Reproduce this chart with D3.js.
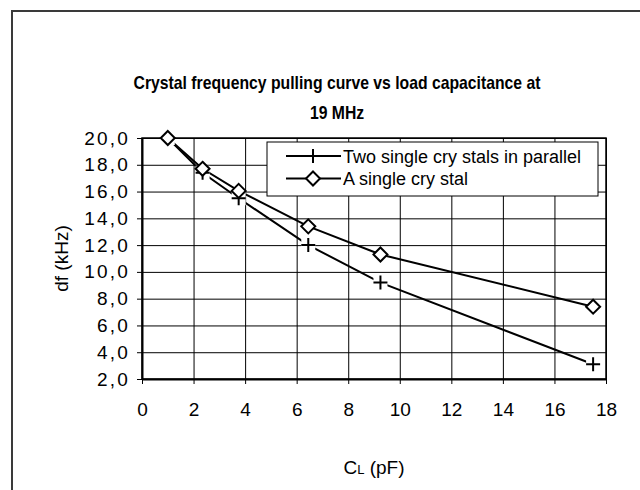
<!DOCTYPE html>
<html>
<head>
<meta charset="utf-8">
<script src="https://cdn.jsdelivr.net/npm/d3@7"></script>
<style>
    body{margin:0;background:#fff;}
    svg{display:block;}
</style>
</head>
<body>
<div id="chart"></div>
<script>
//values
var capacitance = [1, 2.35, 3.75, 6.45, 9.25, 17.5];
var parallelDf = [20.0, 17.4, 15.5, 12.0, 9.2, 3.1];
var singleDf = [20.0, 17.7, 16.05, 13.4, 11.3, 7.4];
var seriesNames = ["Two single cry stals in parallel", "A single cry stal"];
var xTicks = [0, 2, 4, 6, 8, 10, 12, 14, 16, 18];
var yTicks = [2, 4, 6, 8, 10, 12, 14, 16, 18, 20];
var titleLines = ["Crystal frequency pulling curve vs load capacitance at", "19 MHz"];

(function(){

    var W = 640, H = 490;
    var left = 142, right = 606, top = 138, bottom = 379;

    function makeChart(){
        var svg = d3.select("#chart").append("svg")
            .attr("width", W)
            .attr("height", H);

        //outer frame, only left and top edges sit inside the picture
        svg.append("rect")
            .attr("x", 12).attr("y", 11)
            .attr("width", 700).attr("height", 600)
            .attr("fill", "none")
            .attr("stroke", "#3a3a3a")
            .attr("stroke-width", 2);

        var x = d3.scaleLinear().domain([0, 18]).range([left, right]);
        var y = d3.scaleLinear().domain([2, 20]).range([bottom, top]);

        addTitle(svg);
        addGrid(svg, x, y);
        addAxes(svg, x, y);
        addSeries(svg, x, y);
        addLegend(svg);
    };

    function addTitle(svg){
        var cx = 337;
        var lines = svg.selectAll(".title")
            .data(titleLines)
            .enter()
            .append("text")
            .attr("class", "title")
            .attr("x", 0)
            .attr("y", 0)
            .attr("text-anchor", "middle")
            .style("font-family", "'Liberation Sans',Arial,sans-serif")
            .style("font-weight", "bold")
            .style("font-size", "18px")
            .text(function(d){ return d; });

        //squeeze to a narrow face, first line is about 407px wide
        var k = 407 / lines.node().getComputedTextLength();
        lines.attr("transform", function(d, i){
            return "translate(" + cx + "," + (89 + i * 30) + ") scale(" + k + ",1)";
        });
    };

    function addGrid(svg, x, y){
        svg.append("g")
            .attr("transform", "translate(0," + bottom + ")")
            .call(d3.axisBottom(x).tickValues(xTicks).tickSize(-(bottom - top)).tickFormat(""))
            .call(function(g){ g.select(".domain").remove(); })
            .selectAll("line").attr("stroke", "#000").attr("stroke-width", 1);

        svg.append("g")
            .attr("transform", "translate(" + left + ",0)")
            .call(d3.axisLeft(y).tickValues(yTicks).tickSize(-(right - left)).tickFormat(""))
            .call(function(g){ g.select(".domain").remove(); })
            .selectAll("line").attr("stroke", "#000").attr("stroke-width", 1);

        //plot area border
        svg.append("rect")
            .attr("x", left).attr("y", top)
            .attr("width", right - left).attr("height", bottom - top)
            .attr("fill", "none")
            .attr("stroke", "#000")
            .attr("stroke-width", 1.5);
    };

    function addAxes(svg, x, y){
        var comma = d3.formatLocale({decimal: ",", thousands: ".", grouping: [3], currency: ["", ""]}).format(".1f");

        var xAxis = svg.append("g")
            .attr("transform", "translate(0," + bottom + ")")
            .call(d3.axisBottom(x).tickValues(xTicks).tickSize(5).tickPadding(19).tickSizeOuter(0));
        xAxis.select(".domain").attr("stroke-width", 2);
        xAxis.selectAll("text")
            .style("font-family", "'Liberation Sans',Arial,sans-serif")
            .style("font-size", "19px")
            .attr("fill", "#000");

        var yAxis = svg.append("g")
            .attr("transform", "translate(" + left + ",0)")
            .call(d3.axisLeft(y).tickValues(yTicks).tickSize(5).tickPadding(7).tickSizeOuter(0).tickFormat(comma));
        yAxis.select(".domain").attr("stroke-width", 2);
        yAxis.selectAll("text")
            .style("font-family", "'Liberation Sans',Arial,sans-serif")
            .style("font-size", "19px")
            .style("letter-spacing", "2.2px")
            .attr("fill", "#000");

        //axis titles
        svg.append("text")
            .attr("transform", "translate(68," + ((top + bottom) / 2) + ") rotate(-90)")
            .attr("text-anchor", "middle")
            .style("font-family", "'Liberation Sans',Arial,sans-serif")
            .style("font-size", "19px")
            .text("df (kHz)");

        var xt = svg.append("text")
            .attr("x", (left + right) / 2)
            .attr("y", 474)
            .attr("text-anchor", "middle")
            .style("font-family", "'Liberation Sans',Arial,sans-serif")
            .style("font-size", "19px");
        xt.append("tspan").text("C");
        xt.append("tspan").style("font-size", "13px").text("L");
        xt.append("tspan").text(" (pF)");
    };

    function plusMarker(sel){
        sel.append("rect")
            .attr("x", -7).attr("y", -7)
            .attr("width", 14).attr("height", 14)
            .attr("fill", "#fff");
        sel.append("path")
            .attr("d", "M-7,0H7M0,-7V7")
            .attr("stroke", "#000")
            .attr("stroke-width", 2)
            .attr("fill", "none");
    };

    function diamondMarker(sel){
        sel.append("path")
            .attr("d", "M0,-7L7,0L0,7L-7,0Z")
            .attr("stroke", "#000")
            .attr("stroke-width", 2)
            .attr("fill", "#fff");
    };

    function addSeries(svg, x, y){
        var sets = [parallelDf, singleDf];
        var markers = [plusMarker, diamondMarker];

        sets.forEach(function(vals, k){
            var pts = capacitance.map(function(c, i){ return [c, vals[i]]; });
            var line = d3.line()
                .x(function(d){ return x(d[0]); })
                .y(function(d){ return y(d[1]); });
            svg.append("path")
                .datum(pts)
                .attr("d", line)
                .attr("fill", "none")
                .attr("stroke", "#000")
                .attr("stroke-width", 2);
        });

        //markers on top of both lines, diamonds last
        sets.forEach(function(vals, k){
            capacitance.forEach(function(c, i){
                var g = svg.append("g")
                    .attr("transform", "translate(" + x(c) + "," + y(vals[i]) + ")");
                markers[k](g);
            });
        });
    };

    function addLegend(svg){
        var lg = svg.append("g");
        lg.append("rect")
            .attr("x", 267).attr("y", 142)
            .attr("width", 331).attr("height", 54)
            .attr("fill", "#fff")
            .attr("stroke", "#000")
            .attr("stroke-width", 1);

        var markers = [plusMarker, diamondMarker];
        seriesNames.forEach(function(name, i){
            var cy = 156 + i * 22.5;
            lg.append("line")
                .attr("x1", 286).attr("x2", 341)
                .attr("y1", cy).attr("y2", cy)
                .attr("stroke", "#000")
                .attr("stroke-width", 2);
            var m = lg.append("g").attr("transform", "translate(313," + cy + ")");
            markers[i](m);
            if (i === 0){ m.select("rect").attr("x", -5).attr("width", 10); }
            lg.append("text")
                .attr("x", 343)
                .attr("y", cy + 6.5)
                .style("font-family", "'Liberation Sans',Arial,sans-serif")
                .style("font-size", "18px")
                .text(name);
        });
    };

    makeChart();
}) ();
</script>
</body>
</html>
